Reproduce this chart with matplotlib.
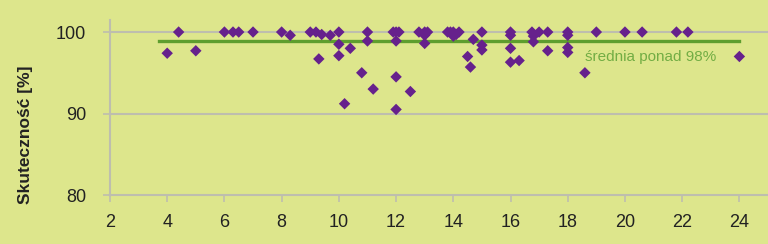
import matplotlib
matplotlib.use("Agg")
import matplotlib.pyplot as plt

# values
odl = [4.0, 4.4, 5.0, 6.0, 6.3, 6.5, 7.0, 8.0, 8.3, 9.0,
       9.2, 9.3, 9.4, 9.7, 10.0, 10.0, 10.0, 10.2, 10.4, 10.8,
       11.0, 11.0, 11.2, 11.9, 12.0, 12.0, 12.0, 12.0, 12.1, 12.5,
       12.8, 13.0, 13.0, 13.0, 13.1, 13.8, 13.9, 14.0, 14.0, 14.1,
       14.2, 14.5, 14.6, 14.7, 15.0, 15.0, 15.0, 16.0, 16.0, 16.0,
       16.0, 16.3, 16.75, 16.8, 16.8, 17.0, 17.3, 17.3, 18.0, 18.0,
       18.0, 18.0, 18.6, 19.0, 20.0, 20.6, 21.8, 22.2, 24.0]
skut = [97.4, 100, 97.7, 100, 100, 100, 100, 100, 99.6, 100,
        100, 96.7, 99.7, 99.6, 100, 98.5, 97.1, 91.2, 98.0, 95.0,
        100, 98.9, 93.0, 100, 100, 98.9, 94.5, 90.5, 100, 92.7,
        100, 100, 99.6, 98.6, 100, 100, 100, 99.5, 100, 99.7,
        100, 97.0, 95.7, 99.1, 100, 98.4, 97.8, 100, 99.6, 98.0,
        96.3, 96.5, 100, 99.5, 98.8, 100, 100, 97.7, 100, 99.6,
        98.1, 97.5, 95.0, 100, 100, 100, 100, 100, 97.0]
srednia = 98.9
srednia_od, srednia_do = 3.7, 24.0
xticks = list(range(2, 25, 2))
yticks = [80, 90, 100]

bg = '#dde68c'
grid_c = '#bebeae'

fig = plt.figure(figsize=(7.68, 2.44), dpi=100, facecolor=bg)
ax = fig.add_axes([0.1432, 0.2008, 0.8568, 0.718], facecolor=bg)

ax.set_xlim(2, 25.0)
ax.set_ylim(80, 101.5)

# gridlines only at 90 and 100
for yv in yticks[1:]:
    ax.axhline(yv, color=grid_c, lw=1.5, zorder=1)

ax.plot([srednia_od, srednia_do], [srednia, srednia], color='#5e9e2e', lw=2.4, zorder=2)
ax.scatter(odl, skut, marker='D', s=34, color='#66218c', edgecolors='none', zorder=3)
ax.text(18.6, 96.9, 'średnia ponad 98%', color='#72ad44', fontsize=11,
        family='Liberation Sans', va='center', ha='left')

for s in ['top', 'right']:
    ax.spines[s].set_visible(False)
for s in ['left', 'bottom']:
    ax.spines[s].set_color(grid_c)
    ax.spines[s].set_linewidth(1.5)

ax.set_xticks(xticks)
ax.set_yticks(yticks)
ax.tick_params(axis='both', colors=grid_c, length=5, width=1.2,
               labelcolor='#222222', labelsize=13)
ax.tick_params(axis='y', pad=12)
ax.tick_params(axis='x', pad=9)
for lab in ax.get_xticklabels() + ax.get_yticklabels():
    lab.set_family('Liberation Sans')

fig.text(0.033, 0.447, 'Skuteczność [%]', rotation=90, fontsize=12.5,
         fontweight='bold', family='Liberation Sans', color='#222222',
         ha='center', va='center')

fig.savefig('out.png', dpi=100, facecolor=bg)
